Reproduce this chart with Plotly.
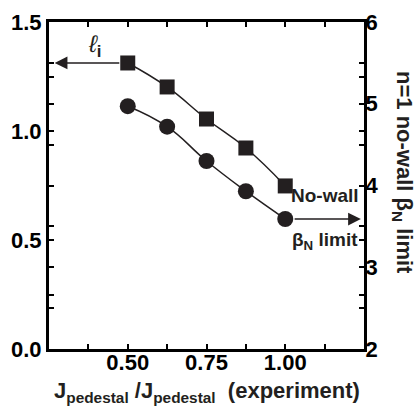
import plotly.graph_objects as go

# data
x_vals = [0.5, 0.625, 0.75, 0.875, 1.0]
li_vals = [1.312, 1.202, 1.055, 0.922, 0.748]          # left axis (squares)
beta_vals = [4.97, 4.72, 4.30, 3.93, 3.59]             # right axis (circles)

x_tickvals = [0.25, 0.375, 0.5, 0.625, 0.75, 0.875, 1.0, 1.125, 1.25]
x_ticktext = ["", "", "0.50", "", "0.75", "", "1.00", "", ""]
yl_tickvals = [0, 0.25, 0.5, 0.75, 1.0, 1.25, 1.5]
yl_ticktext = ["0.0", "", "0.5", "", "1.0", "", "1.5"]
yr_tickvals = [2, 2.5, 3, 3.5, 4, 4.5, 5, 5.5, 6]
yr_ticktext = ["2", "", "3", "", "4", "", "5", "", "6"]

FONT = "Liberation Sans, Arial, sans-serif"
INK = "#231f20"
NB = "\u00a0"

fig = go.Figure()
fig.add_trace(go.Scatter(
    x=x_vals, y=li_vals, mode="lines+markers",
    line=dict(color=INK, width=1.5, shape="spline", smoothing=1.3),
    marker=dict(symbol="square", size=15, color=INK),
    yaxis="y", showlegend=False, cliponaxis=False))
fig.add_trace(go.Scatter(
    x=x_vals, y=beta_vals, mode="lines+markers",
    line=dict(color=INK, width=1.5, shape="spline", smoothing=1.3),
    marker=dict(symbol="circle", size=16, color=INK),
    yaxis="y2", showlegend=False, cliponaxis=False))

tickfont = dict(family=FONT, size=22, color="black", weight="bold")

fig.update_layout(
    width=416, height=407,
    margin=dict(l=49, r=52, t=22, b=58, autoexpand=False),
    paper_bgcolor="white", plot_bgcolor="white",
    xaxis=dict(range=[0.25, 1.25], tickvals=x_tickvals, ticktext=x_ticktext,
               ticks="inside", ticklen=5, tickwidth=1.5, tickcolor="black",
               showline=True, linewidth=3, linecolor="black", mirror="ticks",
               showgrid=False, zeroline=False, tickfont=tickfont,
               ticklabelstandoff=-8, automargin=False),
    yaxis=dict(range=[0, 1.5], tickvals=yl_tickvals, ticktext=yl_ticktext,
               ticks="inside", ticklen=5, tickwidth=1.5, tickcolor="black",
               showline=True, linewidth=3, linecolor="black", mirror="ticks",
               showgrid=False, zeroline=False, tickfont=tickfont, automargin=False),
    yaxis2=dict(range=[2, 6], tickvals=yr_tickvals, ticktext=yr_ticktext,
                overlaying="y", side="right",
                ticks="inside", ticklen=5, tickwidth=1.5, tickcolor="black",
                showline=True, linewidth=3, linecolor="black", mirror="ticks",
                showgrid=False, zeroline=False, tickfont=tickfont,
                ticklabelstandoff=-6, automargin=False),
)

# arrows
fig.add_annotation(x=0.268, y=li_vals[0], xref="x", yref="y",
                   ax=0.478, ay=li_vals[0], axref="x", ayref="y",
                   showarrow=True, arrowhead=2, arrowsize=1.7, arrowwidth=1.5,
                   arrowcolor=INK, text="")
fig.add_annotation(x=1.24, y=beta_vals[-1], xref="x", yref="y2",
                   ax=1.025, ay=beta_vals[-1], axref="x", ayref="y2",
                   showarrow=True, arrowhead=2, arrowsize=1.7, arrowwidth=1.5,
                   arrowcolor=INK, text="")

# labels
fig.add_annotation(x=0.395, y=1.39, xref="x", yref="y", showarrow=False,
                   text="<i>ℓ</i><b><sub>i</sub></b>",
                   font=dict(family=FONT, size=24, color=INK))
fig.add_annotation(x=1.125, y=(349 - 196) / 327, xref="x", yref="paper",
                   xanchor="center", yanchor="middle", showarrow=False,
                   text="No-wall", font=dict(family=FONT, size=19, color=INK, weight="bold"))
fig.add_annotation(x=1.125, y=(349 - 241) / 327, xref="x", yref="paper",
                   xanchor="center", yanchor="middle", showarrow=False,
                   text="β<sub>N</sub> limit",
                   font=dict(family=FONT, size=19, color=INK, weight="bold"))

# right axis title (reads top to bottom)
fig.add_annotation(x=(403 - 49) / 315, y=(349 - 172) / 327, xref="paper", yref="paper",
                   xanchor="center", yanchor="middle",
                   showarrow=False, textangle=90,
                   text="n=1 no-wall β<sub>N</sub> limit",
                   font=dict(family=FONT, size=22, color=INK, weight="bold"))

# x axis title
fig.add_annotation(x=(207 - 49) / 315, y=(349 - 392) / 327, xref="paper", yref="paper",
                   xanchor="center", yanchor="middle", showarrow=False,
                   text="J<sub>pedestal</sub>" + NB + "/J<sub>pedestal</sub>" + NB + NB + "(experiment)",
                   font=dict(family=FONT, size=22, color=INK, weight="bold"))

fig.write_html("out.html")
